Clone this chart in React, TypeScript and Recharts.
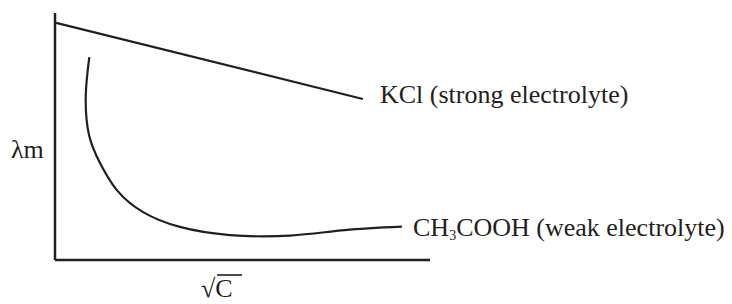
import { LineChart, Line, XAxis, YAxis } from 'recharts';

// both axes on a 0-100 scale
const kclX = [0.3, 82.1];
const kclY = [96.0, 65.2];

const acidX = [9.15, 8.2, 9.07, 12.0, 16.5, 23.5, 33.3, 46.7, 62.7, 77.3, 92.5];
const acidY = [82.1, 66.4, 50.6, 39.3, 28.3, 19.4, 13.4, 10.1, 9.9, 12.1, 13.5];

const kclData = kclX.map((x, i) => ({ x, y: kclY[i] }));
const acidData = acidX.map((x, i) => ({ x, y: acidY[i] }));

const INK = '#231f20';
const FONT = '"Liberation Serif", "Times New Roman", serif';

export default function App() {
  return (
    <div style={{ position: 'absolute', left: 0, top: 0, width: 732, height: 304, background: '#fff' }}>
      <LineChart width={732} height={304} margin={{ top: 13, left: 54, right: 302, bottom: 43 }}>
        <XAxis
          type="number"
          dataKey="x"
          domain={[0, 100]}
          height={1}
          tick={false}
          tickLine={false}
          axisLine={{ stroke: INK, strokeWidth: 2.5 }}
        />
        <YAxis
          type="number"
          dataKey="y"
          domain={[0, 100]}
          width={1}
          tick={false}
          tickLine={false}
          axisLine={{ stroke: INK, strokeWidth: 2.5 }}
        />
        <Line
          data={kclData}
          dataKey="y"
          type="linear"
          stroke={INK}
          strokeWidth={2.2}
          dot={false}
          isAnimationActive={false}
        />
        <Line
          data={acidData}
          dataKey="y"
          type="natural"
          stroke={INK}
          strokeWidth={2.2}
          dot={false}
          isAnimationActive={false}
        />
      </LineChart>

      {/* labels */}
      <svg width={732} height={304} style={{ position: 'absolute', left: 0, top: 0, pointerEvents: 'none' }}>
        <g fill={INK} style={{ fontFamily: FONT, fontSize: 26 }}>
          <text x={380} y={103}>KCl (strong electrolyte)</text>
          <text x={413} y={236}>
            CH<tspan style={{ fontSize: 14 }} dy={4}>3</tspan>
            <tspan dy={-4}>COOH (weak electrolyte)</tspan>
          </text>
          <text x={11} y={158}>λm</text>
          <text x={201} y={297}>√C</text>
        </g>
        {/* radical bar over C */}
        <line x1={217} y1={275} x2={242} y2={275} stroke={INK} strokeWidth={1.6} />
      </svg>
    </div>
  );
}
